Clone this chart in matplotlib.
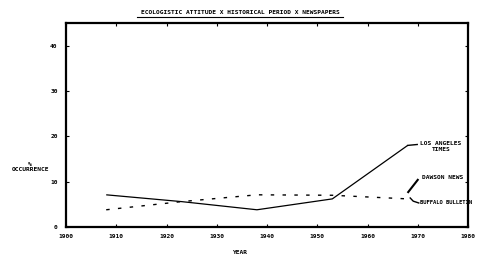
import matplotlib
matplotlib.use("Agg")
import matplotlib.pyplot as plt
from matplotlib.lines import Line2D

# Data
years = [1908, 1923, 1938, 1953, 1968]
la_times = [7.1, 5.6, 3.8, 6.2, 18.0]
buffalo_bulletin = [3.8, 5.6, 7.1, 7.0, 6.2]
x_ticks = [1900, 1910, 1920, 1930, 1940, 1950, 1960, 1970, 1980]
y_ticks = [0, 10, 20, 30, 40]
title = "ECOLOGISTIC ATTITUDE X HISTORICAL PERIOD X NEWSPAPERS"

FONT = "DejaVu Sans Mono"
FS = 4.5

fig = plt.figure(figsize=(4.78, 2.60), dpi=100)
ax = fig.add_axes([66/478, 33/260, 402/478, 204/260])

ax.plot(years, la_times, color="black", lw=0.9, solid_capstyle="butt")
ax.plot(years, buffalo_bulletin, color="black", lw=1.0, linestyle=(0, (2.5, 6)))

ax.set_xlim(1900, 1980)
ax.set_ylim(0, 45)
ax.set_xticks(x_ticks)
ax.set_yticks(y_ticks)
ax.set_xticklabels([str(t) for t in x_ticks], fontsize=FS, family=FONT, weight="bold")
ax.set_yticklabels([str(t) for t in y_ticks], fontsize=FS, family=FONT, weight="bold")
ax.tick_params(direction="in", length=2, width=0.8, top=True, right=True)
ax.tick_params(axis="x", pad=5)
ax.tick_params(axis="y", pad=6)
for s in ax.spines.values():
    s.set_linewidth(1.6)
    s.set_zorder(5)

# Annotations
ax.plot([1968, 1969.9], [18.0, 18.2], color="black", lw=1.0, clip_on=False)
ax.text(1974.6, 17.8, "LOS ANGELES\nTIMES", fontsize=FS, family=FONT, weight="bold",
        ha="center", va="center", multialignment="center", linespacing=1.1)
ax.plot([1970.0, 1968.1], [10.4, 7.7], color="black", lw=1.5, clip_on=False)
ax.text(1970.8, 11.0, "DAWSON NEWS", fontsize=FS, family=FONT, weight="bold",
        ha="left", va="center")
ax.plot([1968.5, 1969.1, 1970.2], [6.4, 5.7, 5.3], color="black", lw=1.0, clip_on=False)
ax.text(1970.4, 5.3, "BUFFALO BULLETIN", fontsize=4.0, family=FONT, weight="bold",
        ha="left", va="center", clip_on=False)

# Title with underline
fig.text(240/478, 1 - 12/260, title, fontsize=FS, family=FONT, weight="bold",
         ha="center", va="center")
fig.add_artist(Line2D([137/478, 343/478], [1 - 17/260, 1 - 17/260],
                      color="black", lw=0.8, transform=fig.transFigure))

# Axis labels
fig.text(240/478, 1 - 252/260, "YEAR", fontsize=FS, family=FONT, weight="bold",
         ha="center", va="center")
fig.text(30/478, 1 - 167/260, "%\nOCCURRENCE", fontsize=FS, family=FONT, weight="bold",
         ha="center", va="center", multialignment="center", linespacing=1.2)

fig.savefig("out.png", dpi=100)
